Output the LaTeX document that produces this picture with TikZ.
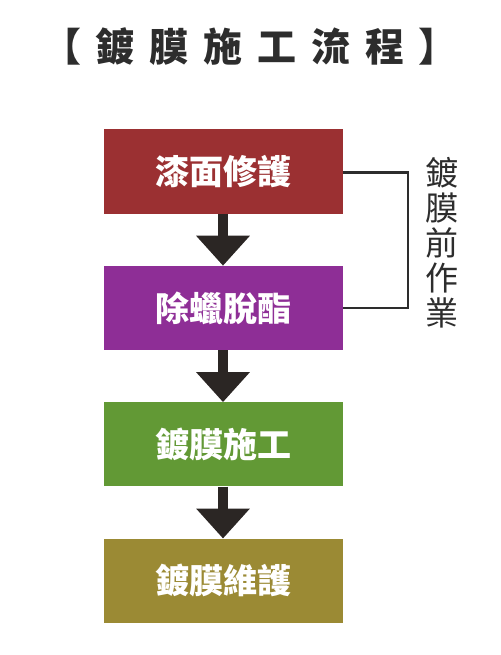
\documentclass[tikz,border=0pt]{standalone}
\usepackage{fontspec}
\setmainfont{Noto Sans CJK TC}
\usetikzlibrary{positioning,arrows.meta}
\definecolor{stepred}{RGB}{155,48,50}
\definecolor{steppurple}{RGB}{142,46,150}
\definecolor{stepgreen}{RGB}{98,153,53}
\definecolor{stepolive}{RGB}{155,138,52}
\definecolor{arrowdark}{RGB}{43,38,36}
\definecolor{textdark}{RGB}{45,45,45}
\tikzset{
  stepbox/.style={minimum width=239pt, minimum height=84pt, inner sep=0pt,
    text=white, font=\fontsize{34}{38}\selectfont\bfseries},
  flowarrow/.style={draw=arrowdark, line width=10pt,
    -{Triangle[length=30pt, width=52pt]}},
}
\begin{document}
\begin{tikzpicture}[x=1pt, y=-1pt]
\useasboundingbox (0,0) rectangle (500,655);
% title
\node (title) at (250,47) [text=textdark, font=\fontsize{39}{42}\selectfont\bfseries]
  {\addfontfeature{LetterSpace=38}【鍍膜施工流程】};
% steps
\node (paint) at (223,171.5) [stepbox, fill=stepred] {漆面修護};
\node (wax) [stepbox, fill=steppurple, below=52pt of paint] {除蠟脫酯};
\node (coat) [stepbox, fill=stepgreen, below=52pt of wax] {鍍膜施工};
\node (care) [stepbox, fill=stepolive, below=52pt of coat] {鍍膜維護};
\draw [flowarrow] (paint) -- (wax);
\draw [flowarrow] (wax) -- (coat);
\draw [flowarrow] (coat) -- (care);
% bracket for the first two steps
\draw [textdark, line width=2pt] ([yshift=-1pt]paint.east) -- ++(65pt,0) |- (wax.east);
\node (pre) at (442,243) [text=textdark, align=center, inner sep=0pt,
  font=\fontsize{33}{35}\selectfont] {鍍\\膜\\前\\作\\業};
\end{tikzpicture}
\end{document}
